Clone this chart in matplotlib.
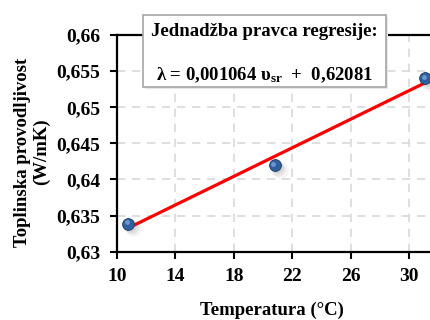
import numpy as np
import matplotlib
matplotlib.use('Agg')
import matplotlib.pyplot as plt
import matplotlib.transforms as mtransforms
from matplotlib.patches import Rectangle

# Data
temperature = [10.8, 20.8, 31.1]
conductivity = [0.6339, 0.6420, 0.6540]
x_ticks = [10, 14, 18, 22, 26, 30]
y_ticks = [0.63, 0.635, 0.64, 0.645, 0.65, 0.655, 0.66]
y_tick_labels = ['0,63', '0,635', '0,64', '0,645', '0,65', '0,655', '0,66']

plt.rcParams['font.family'] = ['Liberation Serif', 'DejaVu Serif']
plt.rcParams['font.weight'] = 'bold'
plt.rcParams['mathtext.fontset'] = 'custom'
plt.rcParams['mathtext.rm'] = 'Liberation Serif:bold'
plt.rcParams['mathtext.it'] = 'Liberation Serif:bold'
plt.rcParams['mathtext.bf'] = 'Liberation Serif:bold'
plt.rcParams['mathtext.default'] = 'rm'

fig = plt.figure(figsize=(4.3, 3.2), dpi=100)
ax = fig.add_axes([0.2714, 0.2134, 0.7486, 0.6772])

# Regression line (least squares through the points)
slope, intercept = np.polyfit(temperature, conductivity, 1)
xl = np.array([temperature[0], temperature[-1]])
ax.plot(xl, slope * xl + intercept, color='red', lw=2.3, zorder=3)

# Points drawn as shaded spheres with a soft shadow
for dx, dy, a, s in [(3.5, -3.5, 0.08, 12), (2.5, -2.5, 0.12, 10), (1.5, -1.5, 0.15, 9)]:
    tr = mtransforms.offset_copy(ax.transData, fig=fig, x=dx, y=dy, units='points')
    ax.plot(temperature, conductivity, 'o', ms=s, color='gray', alpha=a,
            mec='none', transform=tr, zorder=2)
ax.plot(temperature, conductivity, 'o', ms=8.5, color='#2f5f9e', mec='#1c3b66',
        mew=0.6, zorder=4)
tr = mtransforms.offset_copy(ax.transData, fig=fig, x=-1, y=1, units='points')
ax.plot(temperature, conductivity, 'o', ms=3.5, color='#7ea4d6', alpha=0.8,
        mec='none', transform=tr, zorder=5)

ax.set_xlim(10, 32)
ax.set_ylim(0.63, 0.66)
ax.set_xticks(x_ticks)
ax.set_yticks(y_ticks)
ax.set_yticklabels(y_tick_labels)
ax.tick_params(direction='out', length=5, width=1.5, labelsize=14, pad=7)
for lab in ax.get_xticklabels() + ax.get_yticklabels():
    lab.set_fontweight('bold')

for side in ['left', 'bottom', 'top', 'right']:
    ax.spines[side].set_linewidth(1.6)
ax.grid(True, color='#d9d9d9', linestyle=(0, (5, 4)), linewidth=1.2)
ax.set_axisbelow(True)

ax.set_xlabel('Temperatura (°C)', fontsize=13.5, fontweight='bold', va='center')
ax.xaxis.set_label_coords(0.481, -0.269)
ax.set_ylabel('Toplinska provodljivost\n(W/mK)', fontsize=13.5, fontweight='bold',
              linespacing=1.15, va='center')
ax.yaxis.set_label_coords(-0.263, 0.46)

# Equation box
shadow = Rectangle((145 / 430, 1 - 89 / 320), 243 / 430, 72 / 320,
                   transform=fig.transFigure, facecolor='#e6e6e6',
                   edgecolor='none', zorder=9)
box = Rectangle((143 / 430, 1 - 87 / 320), 243 / 430, 72 / 320,
                transform=fig.transFigure, facecolor='white',
                edgecolor='#a6a6a6', linewidth=1.2, zorder=10)
fig.patches.extend([shadow, box])
fig.text(264 / 430, 1 - 32 / 320, 'Jednadžba pravca regresije:', ha='center',
         va='center', fontsize=13.5, fontweight='bold', zorder=11)
fig.text(264 / 430, 1 - 75 / 320, 'λ = 0,001064 υ$_{sr}$  +  0,62081', ha='center',
         va='center', fontsize=13.5, fontweight='bold', zorder=11)

fig.savefig('out.png', dpi=100)
